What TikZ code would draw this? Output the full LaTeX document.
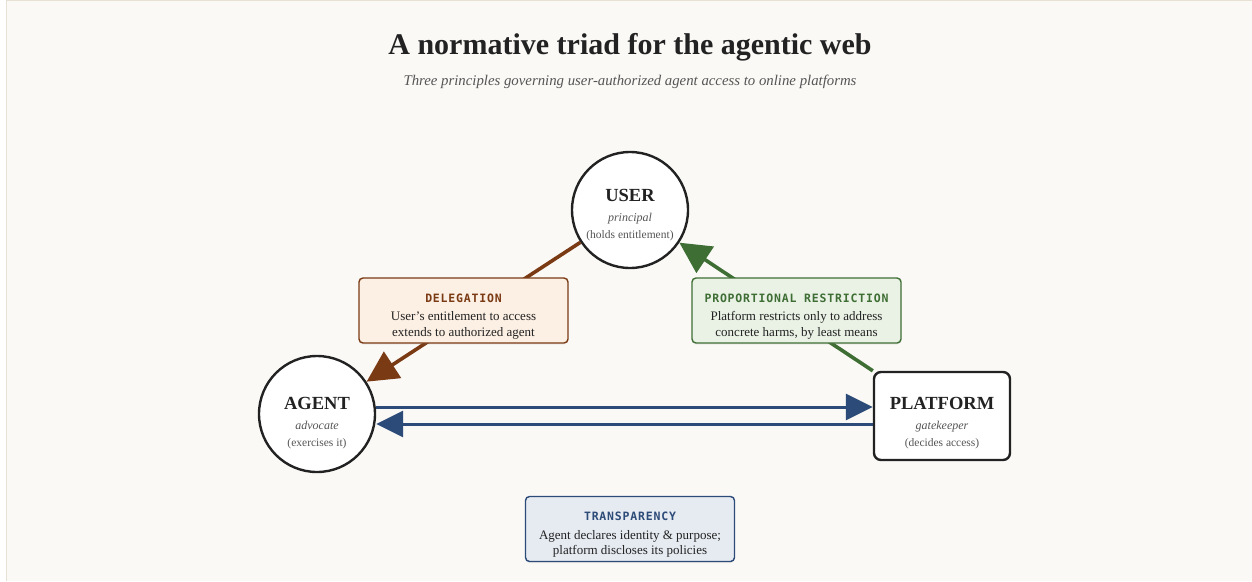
\documentclass[tikz,border=0pt]{standalone}
\usepackage{fontspec}
\setmainfont{Liberation Serif}
\newfontfamily\monof{DejaVu Sans Mono}[LetterSpace=7]
\usetikzlibrary{arrows.meta,shadows}
\definecolor{bgc}{HTML}{FAF9F6}
\definecolor{edgec}{HTML}{E6E1D3}
\definecolor{inkc}{HTML}{222222}
\definecolor{grayc}{HTML}{555555}
\definecolor{brownc}{HTML}{7A3A14}
\definecolor{brownfill}{HTML}{FCEFE3}
\definecolor{greenc}{HTML}{3E6E34}
\definecolor{greenfill}{HTML}{EAF2E6}
\definecolor{bluec}{HTML}{2D4B78}
\definecolor{bluefill}{HTML}{E6EBF2}
\tikzset{
  actor/.style={circle, draw=inkc, line width=2.4pt, fill=white, minimum size=116pt, inner sep=0pt},
  platbox/.style={rectangle, rounded corners=7pt, draw=inkc, line width=2.4pt, fill=white, minimum width=136pt, minimum height=88pt, inner sep=0pt},
  actorlbl/.style={align=center, inner sep=0pt, font=\fontsize{12}{17.5}\selectfont},
  princ/.style={rectangle, rounded corners=4pt, line width=1.4pt, minimum width=209pt, minimum height=65pt, inner sep=0pt, drop shadow={shadow xshift=0pt, shadow yshift=-1.5pt, opacity=0.12}},
  princlbl/.style={align=center, inner sep=0pt, font=\fontsize{13}{15.5}\selectfont, text=inkc},
  brownarrow/.style={draw=brownc, line width=3.6pt, -{Triangle[length=31pt,width=31pt]}},
  greenarrow/.style={draw=greenc, line width=3.6pt, -{Triangle[length=31pt,width=31pt]}},
  bluearrow/.style={draw=bluec, line width=3pt, -{Triangle[length=27pt,width=26pt]}},
}
\newcommand{\nm}[1]{{\fontsize{18.5}{22}\selectfont\bfseries\color{inkc}#1}}
\newcommand{\rl}[1]{{\fontsize{12}{17.5}\selectfont\itshape\color{grayc}#1}}
\newcommand{\ds}[1]{{\fontsize{11.5}{17.5}\selectfont\color{grayc}#1}}
\newcommand{\hd}[2]{{\monof\fontsize{11.5}{16}\selectfont\bfseries\color{#1}#2}}
\begin{document}
\begin{tikzpicture}[x=1pt,y=-1pt]
\useasboundingbox (0,0) rectangle (1252,581);
\fill[white] (0,0) rectangle (1252,581);
\fill[bgc] (6,0) rectangle (1252,581);
\draw[edgec, line width=1.2pt] (6.5,581) -- (6.5,0.6) -- (1252,0.6);

\node[text=inkc, font=\fontsize{30}{34}\selectfont\bfseries] (title) at (630,47) {A normative triad for the agentic web};
\node[text=grayc, font=\fontsize{14.8}{18}\selectfont\itshape] (subtitle) at (630,82) {Three principles governing user-authorized agent access to online platforms};

\node[actor] (user) at (630,210) {};
\node[actor] (agent) at (317,414) {};
\node[platbox] (platform) at (942,416) {};
\node[actorlbl] (userlbl) at (630,215) {\nm{USER}\\[3pt]\rl{principal}\\[-0.5pt]\ds{(holds entitlement)}};
\node[actorlbl] (agentlbl) at (317,423) {\nm{AGENT}\\[3pt]\rl{advocate}\\[-0.5pt]\ds{(exercises it)}};
\node[actorlbl] (platformlbl) at (942,423) {\nm{PLATFORM}\\[3pt]\rl{gatekeeper}\\[-0.5pt]\ds{(decides access)}};

\draw[brownarrow] (user) -- (agent);
\draw[greenarrow] (platform.north west) -- (user);
\draw[bluearrow] (agent.east |- 0,407) -- (platform.west |- 0,407);
\draw[bluearrow] (platform.west |- 0,424) -- (agent.east |- 0,424);

\node[princ, draw=brownc, fill=brownfill] (deleg) at (463.5,310.5) {};
\node[princ, draw=greenc, fill=greenfill] (prop) at (796.5,310.5) {};
\node[princ, draw=bluec, fill=bluefill] (transp) at (630,529) {};
\node[princlbl] (deleglbl) at (463.5,316.5) {\hd{brownc}{DELEGATION}\\[3pt]User's entitlement to access\\extends to authorized agent};
\node[princlbl] (proplbl) at (796.5,316.5) {\hd{greenc}{PROPORTIONAL RESTRICTION}\\[3pt]Platform restricts only to address\\concrete harms, by least means};
\node[princlbl] (transplbl) at (630,535) {\hd{bluec}{TRANSPARENCY}\\[3pt]Agent declares identity \& purpose;\\platform discloses its policies};
\end{tikzpicture}
\end{document}
